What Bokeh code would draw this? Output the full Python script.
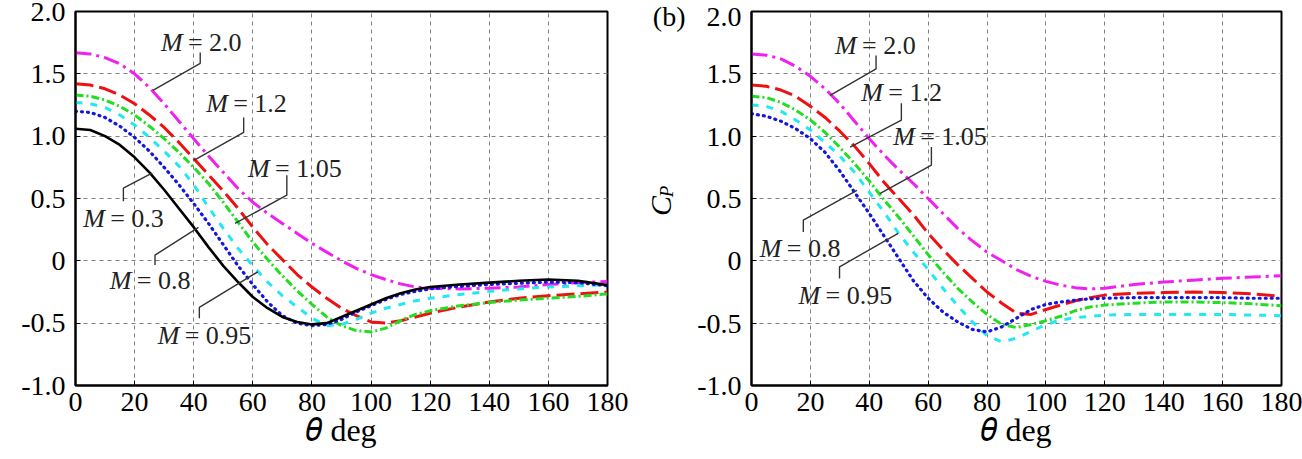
import math
from bokeh.plotting import figure
from bokeh.models import Range1d, FixedTicker, LinearAxis
from bokeh.layouts import row
from bokeh.embed import file_html
from bokeh.resources import INLINE
from bokeh.core.properties import value

# ---------------- data ----------------
THETA = [0, 5, 10, 15, 20, 25, 30, 35, 40, 45, 50, 55, 60, 65, 70, 75, 80, 85, 90, 95,
         100, 105, 110, 115, 120, 130, 140, 150, 160, 170, 180]

# panel (a)
A_M03 = [1.06, 1.05, 1.00, 0.93, 0.83, 0.71, 0.57, 0.42, 0.27, 0.11, -0.04, -0.17, -0.29, -0.38,
         -0.45, -0.49, -0.51, -0.50, -0.45, -0.40, -0.35, -0.30, -0.26, -0.23, -0.21,
         -0.19, -0.175, -0.16, -0.15, -0.16, -0.195]
A_M08 = [1.20, 1.19, 1.15, 1.08, 0.99, 0.88, 0.75, 0.61, 0.46, 0.30, 0.13, -0.04, -0.19, -0.33,
         -0.44, -0.50, -0.52, -0.51, -0.47, -0.41, -0.36, -0.31, -0.27, -0.245, -0.225,
         -0.205, -0.19, -0.18, -0.17, -0.175, -0.20]
A_M095 = [1.27, 1.26, 1.23, 1.17, 1.09, 0.99, 0.88, 0.76, 0.61, 0.43, 0.26, 0.10, -0.04, -0.17,
          -0.28, -0.37, -0.46, -0.52, -0.51, -0.47, -0.42, -0.38, -0.35, -0.32, -0.30,
          -0.27, -0.245, -0.225, -0.21, -0.20, -0.19]
A_M105 = [1.33, 1.32, 1.29, 1.24, 1.17, 1.08, 0.98, 0.87, 0.75, 0.62, 0.47, 0.31, 0.15, 0.01,
          -0.12, -0.24, -0.35, -0.45, -0.52, -0.56, -0.57, -0.54, -0.48, -0.43, -0.40,
          -0.36, -0.335, -0.315, -0.30, -0.285, -0.265]
A_M12 = [1.42, 1.41, 1.38, 1.33, 1.26, 1.17, 1.07, 0.95, 0.82, 0.69, 0.56, 0.42, 0.27, 0.13,
         0.01, -0.11, -0.21, -0.30, -0.38, -0.44, -0.49, -0.50, -0.48, -0.45, -0.42,
         -0.37, -0.33, -0.30, -0.28, -0.265, -0.25]
A_M20 = [1.67, 1.66, 1.63, 1.58, 1.50, 1.39, 1.26, 1.12, 0.98, 0.84, 0.71, 0.58, 0.47, 0.38,
         0.30, 0.22, 0.14, 0.07, 0.00, -0.06, -0.11, -0.15, -0.185, -0.21, -0.22,
         -0.225, -0.22, -0.21, -0.19, -0.175, -0.165]

# panel (b)
B_M08 = [1.18, 1.16, 1.12, 1.06, 0.98, 0.87, 0.72, 0.55, 0.38, 0.20, 0.02, -0.16, -0.30, -0.41,
         -0.49, -0.55, -0.57, -0.53, -0.46, -0.39, -0.35, -0.33, -0.315, -0.305, -0.30,
         -0.295, -0.295, -0.295, -0.295, -0.30, -0.30]
B_M095 = [1.25, 1.24, 1.20, 1.13, 1.05, 0.95, 0.84, 0.71, 0.55, 0.39, 0.22, 0.07, -0.07, -0.22,
          -0.36, -0.49, -0.60, -0.65, -0.62, -0.565, -0.51, -0.475, -0.455, -0.445, -0.435,
          -0.43, -0.43, -0.43, -0.43, -0.435, -0.44]
B_M105 = [1.32, 1.31, 1.27, 1.21, 1.13, 1.03, 0.91, 0.78, 0.64, 0.49, 0.35, 0.20, 0.05, -0.09,
          -0.22, -0.33, -0.43, -0.51, -0.535, -0.51, -0.48, -0.445, -0.40, -0.37, -0.355,
          -0.34, -0.33, -0.33, -0.335, -0.345, -0.36]
B_M12 = [1.41, 1.40, 1.37, 1.32, 1.24, 1.15, 1.04, 0.92, 0.78, 0.63, 0.50, 0.37, 0.22, 0.09,
         -0.03, -0.14, -0.25, -0.34, -0.42, -0.43, -0.39, -0.355, -0.32, -0.295, -0.275,
         -0.26, -0.255, -0.25, -0.255, -0.265, -0.285]
B_M20 = [1.66, 1.65, 1.62, 1.56, 1.48, 1.38, 1.26, 1.12, 0.98, 0.85, 0.73, 0.62, 0.50, 0.38,
         0.26, 0.16, 0.07, 0.00, -0.07, -0.125, -0.165, -0.195, -0.215, -0.225, -0.22,
         -0.19, -0.17, -0.155, -0.14, -0.13, -0.12]

X_TICKS = [0, 20, 40, 60, 80, 100, 120, 140, 160, 180]
Y_TICKS = [-1.0, -0.5, 0.0, 0.5, 1.0, 1.5, 2.0]
Y_TICK_LABELS = ["-1.0", "-0.5", "0", "0.5", "1.0", "1.5", "2.0"]

A_LABELS = ["= 2.0", "= 1.2", "= 1.05", "= 0.3", "= 0.8", "= 0.95"]
B_LABELS = ["= 2.0", "= 1.2", "= 1.05", "= 0.8", "= 0.95"]

# ---------------- styles / positions ----------------
SERIF = "Liberation Serif"
NB = "\u00a0"
XLABEL = "\U0001D703 deg"
STYLES = {
    "M20": dict(line_color="#F020F0", line_dash="16 5 3 5", line_width=3),
    "M12": dict(line_color="#EE1111", line_dash="18 6", line_width=3),
    "M105": dict(line_color="#22DD22", line_dash="8 3 2 3", line_width=3),
    "M095": dict(line_color="#22E8F2", line_dash="7 8", line_width=3),
    "M08": dict(line_color="#1515E0", line_dash="1 5", line_width=3.2, line_cap="round"),
    "M03": dict(line_color="black", line_width=2.6),
}

A_POS = [(28.9, 1.752), (44.2, 1.264), (58.4, 0.743), (2.6, 0.34), (11.6, -0.155), (27.8, -0.595)]
A_LEAD = [
    [(42.2, 1.672), (42.2, 1.584), (26.2, 1.368)],
    [(56.9, 1.15), (56.9, 1.03), (40.2, 0.807)],
    [(71.5, 0.687), (71.5, 0.527), (54.0, 0.30)],
    [(16.2, 0.478), (16.2, 0.583), (25.9, 0.703)],
    [(26.9, -0.034), (26.9, 0.046), (41.6, 0.268)],
    [(41.9, -0.46), (41.9, -0.373), (61.7, -0.088)],
]
B_POS = [(28.4, 1.728), (37.3, 1.354), (48.1, 0.994), (2.8, 0.099), (16.0, -0.275)]
B_LEAD = [
    [(42.3, 1.648), (42.3, 1.54), (26.7, 1.328)],
    [(50.9, 1.264), (50.9, 1.128), (33.5, 0.913)],
    [(61.1, 0.913), (61.1, 0.767), (43.6, 0.54)],
    [(17.6, 0.232), (17.6, 0.326), (35.8, 0.566)],
    [(29.9, -0.141), (29.9, -0.048), (49.8, 0.22)],
]


def make_panel(series, labels, pos, leads, width, bl, br, xlabel, tag=None):
    p = figure(width=width, height=459, x_range=Range1d(0, 180), y_range=Range1d(-1, 2),
               output_backend="svg", toolbar_location=None,
               min_border_left=bl, min_border_right=br, min_border_top=11, min_border_bottom=74,
               background_fill_color="white", border_fill_color="white")
    p.outline_line_color = "black"
    p.outline_line_width = 2
    p.outline_line_alpha = 1

    p.xaxis.ticker = FixedTicker(ticks=X_TICKS)
    p.yaxis.ticker = FixedTicker(ticks=Y_TICKS)
    overrides = {t: s for t, s in zip(Y_TICKS, Y_TICK_LABELS)}
    if tag is not None:
        overrides[2.0] = tag + NB * 3 + "2.0"
    p.yaxis.major_label_overrides = overrides
    for ax in (p.xaxis, p.yaxis):
        ax.axis_line_width = 2
        ax.axis_line_color = "black"
        ax.major_tick_in = 5
        ax.major_tick_out = 0
        ax.minor_tick_line_color = None
        ax.major_label_text_font = SERIF
        ax.major_label_text_font_size = "28px"
        ax.major_label_text_color = "black"
    p.xaxis.major_label_standoff = 7
    p.yaxis.major_label_standoff = 10

    p.xaxis.axis_label = xlabel
    p.xaxis.axis_label_text_font = SERIF
    p.xaxis.axis_label_text_font_size = "32px"
    p.xaxis.axis_label_text_font_style = "normal"
    p.xaxis.axis_label_text_color = "black"
    p.xaxis.axis_label_standoff = -2

    if tag is not None:
        # subscript P (closest to frame) and C (outer axis)
        p.yaxis.axis_label = NB * 3 + "P"
        p.yaxis.axis_label_text_font = SERIF
        p.yaxis.axis_label_text_font_style = "italic"
        p.yaxis.axis_label_text_font_size = "19px"
        p.yaxis.axis_label_text_color = "black"
        p.yaxis.axis_label_standoff = -27
        outer = LinearAxis(ticker=FixedTicker(ticks=[]), axis_line_color=None,
                           major_tick_line_color=None, minor_tick_line_color=None,
                           axis_label="C" + NB * 2, axis_label_text_font=SERIF,
                           axis_label_text_font_style="italic", axis_label_text_font_size="30px",
                           axis_label_text_color="black", axis_label_standoff=-24)
        p.add_layout(outer, "left")

    for g in (p.xgrid, p.ygrid):
        g.grid_line_color = "#808080"
        g.grid_line_dash = "4 4"
        g.grid_line_width = 1

    for key, vals in series:
        p.line(THETA, vals, **STYLES[key])

    xs = [[pt[0] for pt in l] for l in leads]
    ys = [[pt[1] for pt in l] for l in leads]
    p.multi_line(xs, ys, line_color="#333333", line_width=1.4)

    px = [q[0] for q in pos]
    py = [q[1] for q in pos]
    p.text(px, py, text=["M"] * len(px), text_font=value(SERIF), text_font_style="italic",
           text_font_size="26px", text_baseline="middle", text_align="left", text_color="#222222")
    p.text(px, py, text=labels, text_font=value(SERIF), text_font_style="normal",
           text_font_size="26px", text_baseline="middle", text_align="left", x_offset=27,
           text_color="#222222")
    return p


pa = make_panel([("M20", A_M20), ("M12", A_M12), ("M105", A_M105), ("M095", A_M095),
                 ("M08", A_M08), ("M03", A_M03)],
                A_LABELS, A_POS, A_LEAD, 640, 75, 33, XLABEL)
pb = make_panel([("M20", B_M20), ("M12", B_M12), ("M105", B_M105), ("M095", B_M095),
                 ("M08", B_M08)],
                B_LABELS, B_POS, B_LEAD, 662, 108, 21, XLABEL, tag="(b)")

layout = row(pa, pb)
open("out.html", "w").write(file_html(layout, INLINE))
